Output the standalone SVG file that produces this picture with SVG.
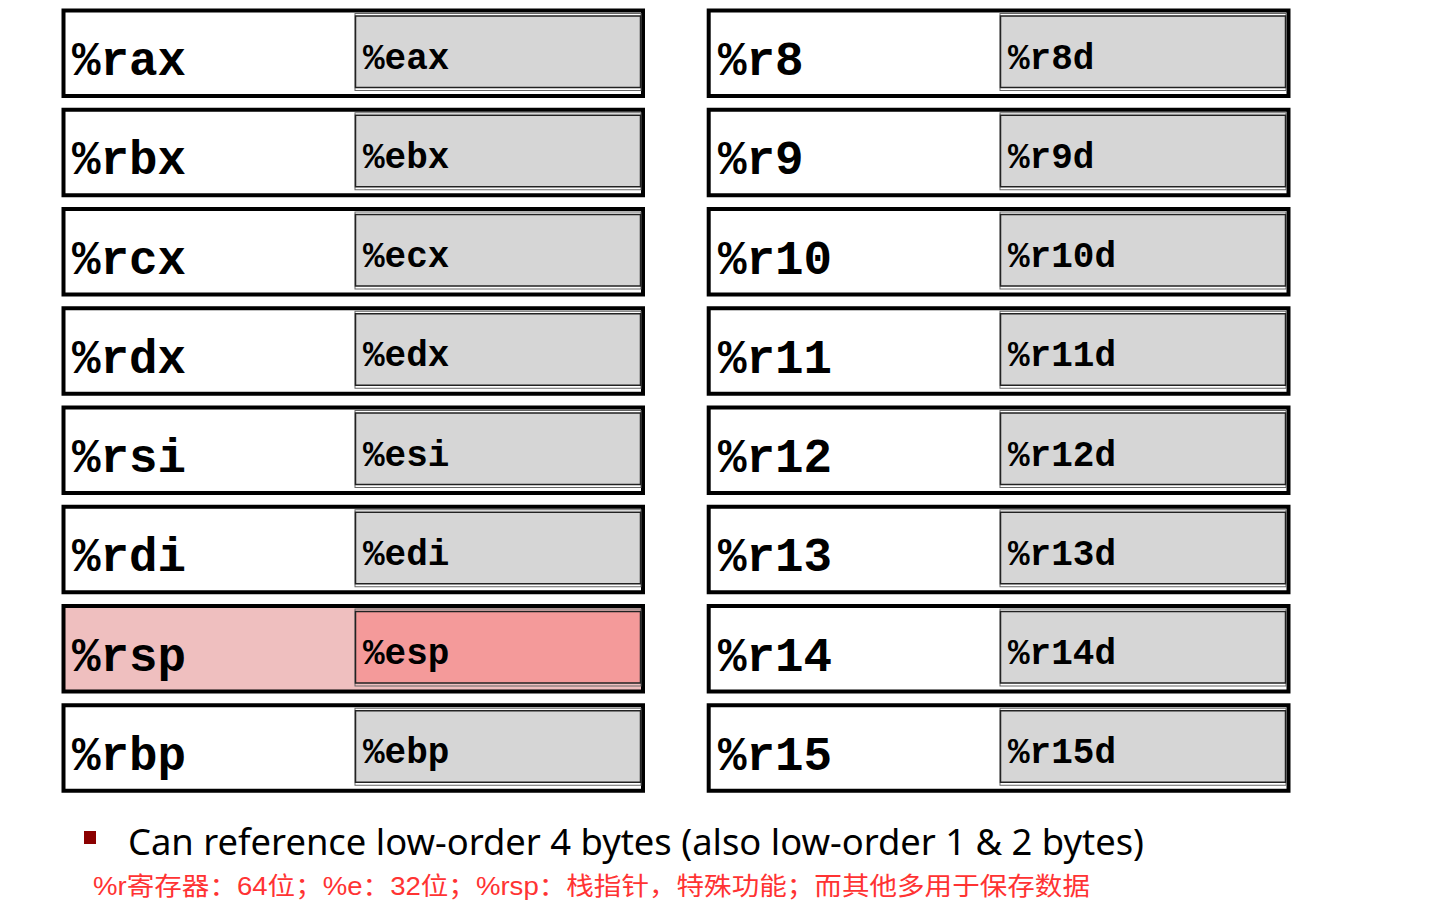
<svg xmlns="http://www.w3.org/2000/svg" width="1440" height="911" viewBox="0 0 1440 911">
<style>
.outer{fill:#ffffff;stroke:#000;stroke-width:4}
.outer.hl{fill:#efbfbf}
.ghost{fill:none;stroke:#666;stroke-width:1}
.inner{fill:#d6d6d6;stroke:#222;stroke-width:1.5}
.inner.hl{fill:#f49a9a}
.big{font-family:"Liberation Mono","Courier New",monospace;font-weight:bold;font-size:47.5px;fill:#000}
.small{font-family:"Liberation Mono","Courier New",monospace;font-weight:bold;font-size:36px;fill:#000}
.note{font-family:"Noto Sans","Open Sans",sans-serif;font-size:36px;fill:#000}
.cn{font-family:"Liberation Sans","Noto Sans CJK SC",sans-serif;font-size:25px;fill:#ff3333}
</style>
<rect width="1440" height="911" fill="#fff"/>
<g id="connectors"/>
<g id="rax" transform="translate(0,10.5)"><rect class="outer" x="63.5" y="0" width="579.5" height="85.5"/><rect class="ghost" x="355" y="3" width="286" height="77"/><rect class="inner" x="355.5" y="5.5" width="285" height="71.5"/><text class="big" x="72" y="64.5">%rax</text><text class="small" x="363" y="58">%eax</text></g>
<g id="rbx" transform="translate(0,109.75)"><rect class="outer" x="63.5" y="0" width="579.5" height="85.5"/><rect class="ghost" x="355" y="3" width="286" height="77"/><rect class="inner" x="355.5" y="5.5" width="285" height="71.5"/><text class="big" x="72" y="64.5">%rbx</text><text class="small" x="363" y="58">%ebx</text></g>
<g id="rcx" transform="translate(0,209)"><rect class="outer" x="63.5" y="0" width="579.5" height="85.5"/><rect class="ghost" x="355" y="3" width="286" height="77"/><rect class="inner" x="355.5" y="5.5" width="285" height="71.5"/><text class="big" x="72" y="64.5">%rcx</text><text class="small" x="363" y="58">%ecx</text></g>
<g id="rdx" transform="translate(0,308.25)"><rect class="outer" x="63.5" y="0" width="579.5" height="85.5"/><rect class="ghost" x="355" y="3" width="286" height="77"/><rect class="inner" x="355.5" y="5.5" width="285" height="71.5"/><text class="big" x="72" y="64.5">%rdx</text><text class="small" x="363" y="58">%edx</text></g>
<g id="rsi" transform="translate(0,407.5)"><rect class="outer" x="63.5" y="0" width="579.5" height="85.5"/><rect class="ghost" x="355" y="3" width="286" height="77"/><rect class="inner" x="355.5" y="5.5" width="285" height="71.5"/><text class="big" x="72" y="64.5">%rsi</text><text class="small" x="363" y="58">%esi</text></g>
<g id="rdi" transform="translate(0,506.75)"><rect class="outer" x="63.5" y="0" width="579.5" height="85.5"/><rect class="ghost" x="355" y="3" width="286" height="77"/><rect class="inner" x="355.5" y="5.5" width="285" height="71.5"/><text class="big" x="72" y="64.5">%rdi</text><text class="small" x="363" y="58">%edi</text></g>
<g id="rsp" transform="translate(0,606)"><rect class="outer hl" x="63.5" y="0" width="579.5" height="85.5"/><rect class="ghost" x="355" y="3" width="286" height="77"/><rect class="inner hl" x="355.5" y="5.5" width="285" height="71.5"/><text class="big" x="72" y="64.5">%rsp</text><text class="small" x="363" y="58">%esp</text></g>
<g id="rbp" transform="translate(0,705.25)"><rect class="outer" x="63.5" y="0" width="579.5" height="85.5"/><rect class="ghost" x="355" y="3" width="286" height="77"/><rect class="inner" x="355.5" y="5.5" width="285" height="71.5"/><text class="big" x="72" y="64.5">%rbp</text><text class="small" x="363" y="58">%ebp</text></g>
<g id="r8" transform="translate(0,10.5)"><rect class="outer" x="708.7" y="0" width="579.8" height="85.5"/><rect class="ghost" x="1000" y="3" width="286" height="77"/><rect class="inner" x="1000.5" y="5.5" width="285" height="71.5"/><text class="big" x="718" y="64.5">%r8</text><text class="small" x="1008" y="58">%r8d</text></g>
<g id="r9" transform="translate(0,109.75)"><rect class="outer" x="708.7" y="0" width="579.8" height="85.5"/><rect class="ghost" x="1000" y="3" width="286" height="77"/><rect class="inner" x="1000.5" y="5.5" width="285" height="71.5"/><text class="big" x="718" y="64.5">%r9</text><text class="small" x="1008" y="58">%r9d</text></g>
<g id="r10" transform="translate(0,209)"><rect class="outer" x="708.7" y="0" width="579.8" height="85.5"/><rect class="ghost" x="1000" y="3" width="286" height="77"/><rect class="inner" x="1000.5" y="5.5" width="285" height="71.5"/><text class="big" x="718" y="64.5">%r10</text><text class="small" x="1008" y="58">%r10d</text></g>
<g id="r11" transform="translate(0,308.25)"><rect class="outer" x="708.7" y="0" width="579.8" height="85.5"/><rect class="ghost" x="1000" y="3" width="286" height="77"/><rect class="inner" x="1000.5" y="5.5" width="285" height="71.5"/><text class="big" x="718" y="64.5">%r11</text><text class="small" x="1008" y="58">%r11d</text></g>
<g id="r12" transform="translate(0,407.5)"><rect class="outer" x="708.7" y="0" width="579.8" height="85.5"/><rect class="ghost" x="1000" y="3" width="286" height="77"/><rect class="inner" x="1000.5" y="5.5" width="285" height="71.5"/><text class="big" x="718" y="64.5">%r12</text><text class="small" x="1008" y="58">%r12d</text></g>
<g id="r13" transform="translate(0,506.75)"><rect class="outer" x="708.7" y="0" width="579.8" height="85.5"/><rect class="ghost" x="1000" y="3" width="286" height="77"/><rect class="inner" x="1000.5" y="5.5" width="285" height="71.5"/><text class="big" x="718" y="64.5">%r13</text><text class="small" x="1008" y="58">%r13d</text></g>
<g id="r14" transform="translate(0,606)"><rect class="outer" x="708.7" y="0" width="579.8" height="85.5"/><rect class="ghost" x="1000" y="3" width="286" height="77"/><rect class="inner" x="1000.5" y="5.5" width="285" height="71.5"/><text class="big" x="718" y="64.5">%r14</text><text class="small" x="1008" y="58">%r14d</text></g>
<g id="r15" transform="translate(0,705.25)"><rect class="outer" x="708.7" y="0" width="579.8" height="85.5"/><rect class="ghost" x="1000" y="3" width="286" height="77"/><rect class="inner" x="1000.5" y="5.5" width="285" height="71.5"/><text class="big" x="718" y="64.5">%r15</text><text class="small" x="1008" y="58">%r15d</text></g>
<g id="notes">
<rect x="84" y="831" width="12" height="13" fill="#8b0000"/>
<text class="note" x="128" y="855" textLength="1016" lengthAdjust="spacingAndGlyphs">Can reference low-order 4 bytes (also low-order 1 &amp; 2 bytes)</text>
<text class="cn" x="93" y="895" textLength="997" lengthAdjust="spacingAndGlyphs">%r寄存器：64位；%e：32位；%rsp：栈指针，特殊功能；而其他多用于保存数据</text>
</g>
</svg>
